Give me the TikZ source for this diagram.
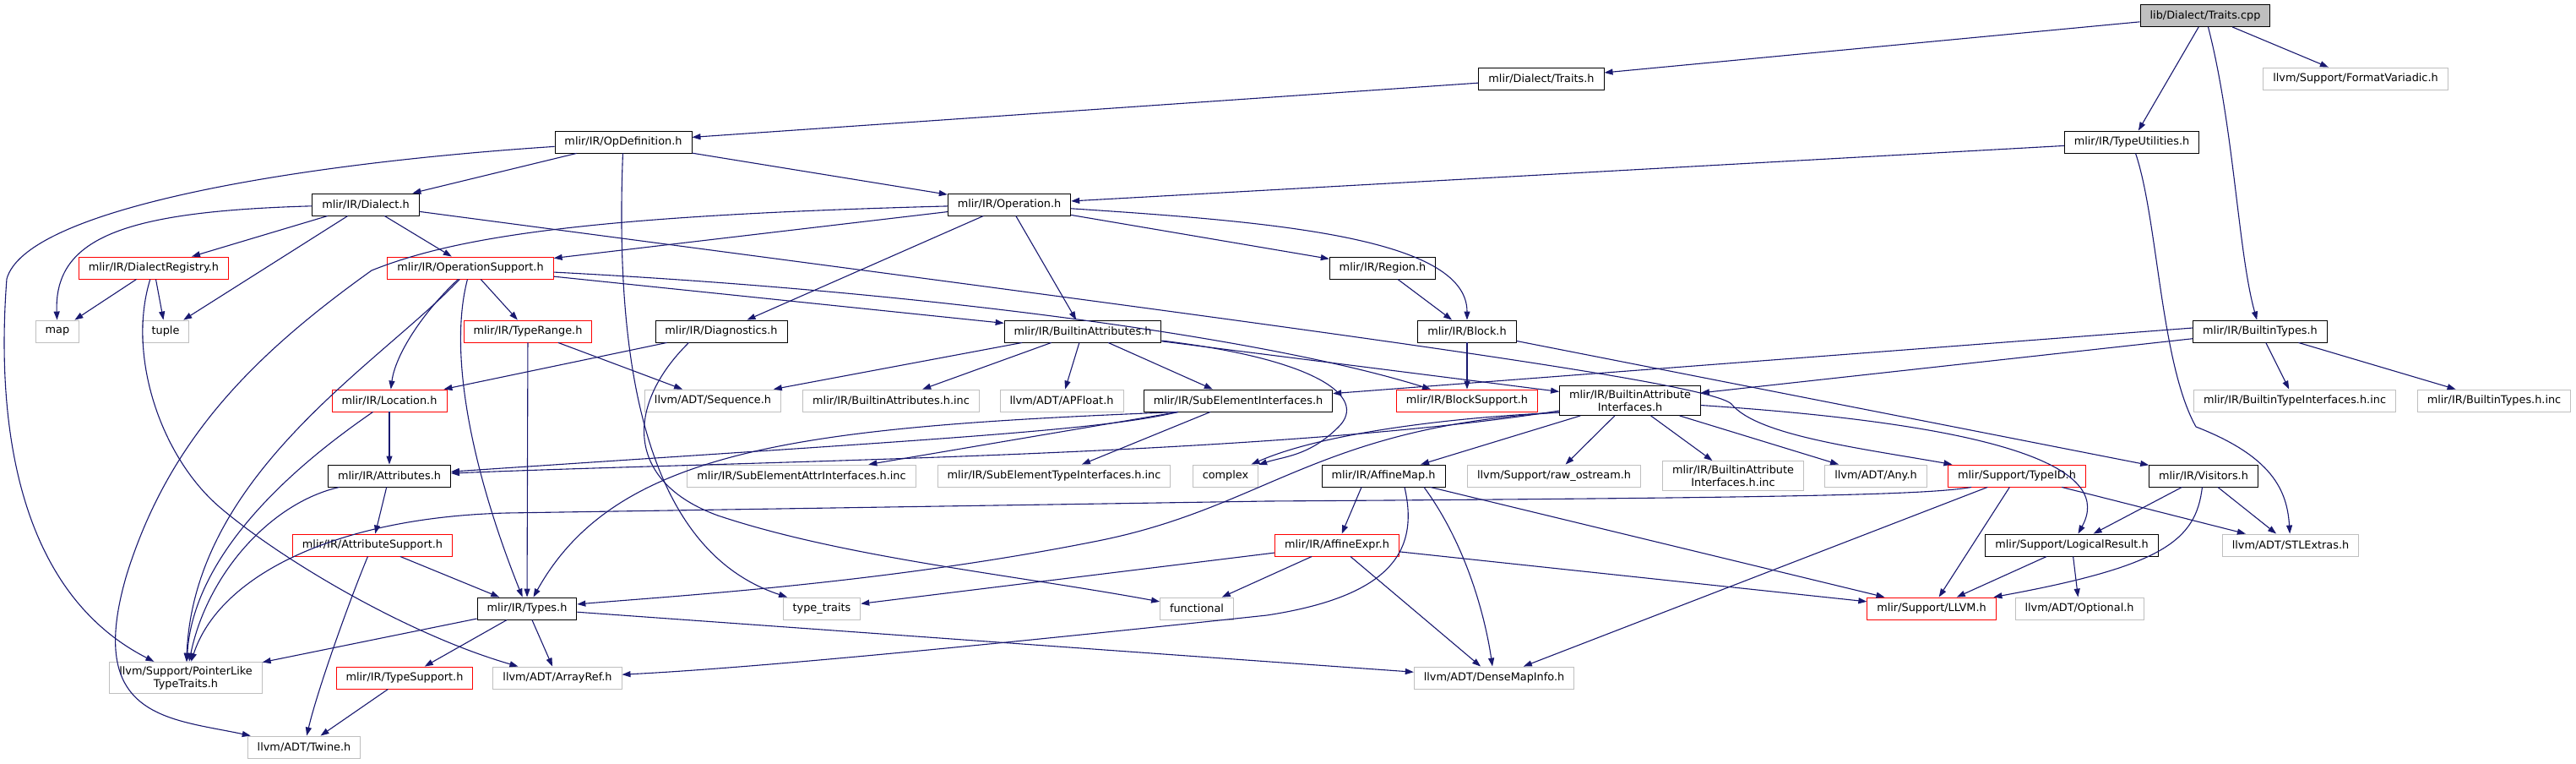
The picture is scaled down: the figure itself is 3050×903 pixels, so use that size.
\documentclass[tikz,border=0pt]{standalone}
\usepackage{fontspec}
\setmainfont{DejaVu Sans}
\usetikzlibrary{arrows.meta}
\definecolor{depblue}{HTML}{191970}
\definecolor{boxgrey}{HTML}{BFBFBF}
\definecolor{boxred}{HTML}{FF0000}
\begin{document}
\begin{tikzpicture}[x=1pt,y=-1pt,
  font=\fontsize{12.85}{15}\selectfont,
  file/.style={draw=black,fill=white,line width=0.9pt,inner xsep=11.5pt,inner ysep=5pt,minimum height=26pt,align=center},
  ext/.style={file,draw=boxgrey},
  trunc/.style={file,draw=boxred},
  root/.style={file,fill=boxgrey},
  dep/.style={draw=depblue,line width=1.1pt,-{Triangle[length=10pt,width=7pt]}}]
  \useasboundingbox (0,0) rectangle (3050,903);
  \node[root] (traitscpp) at (2611,18.5) {lib/Dialect/Traits.cpp};
  \node[ext] (fmtvar) at (2789,93) {llvm/Support/FormatVariadic.h};
  \node[file] (traitsh) at (1825,93) {mlir/Dialect/Traits.h};
  \node[file] (typeutil) at (2524,168) {mlir/IR/TypeUtilities.h};
  \node[file] (opdef) at (738,168) {mlir/IR/OpDefinition.h};
  \node[file] (dialect) at (433,242) {mlir/IR/Dialect.h};
  \node[file] (operation) at (1195,242) {mlir/IR/Operation.h};
  \node[trunc] (dialreg) at (182,317) {mlir/IR/DialectRegistry.h};
  \node[trunc] (opsupport) at (557,317) {mlir/IR/OperationSupport.h};
  \node[file] (region) at (1637,317) {mlir/IR/Region.h};
  \node[ext] (map) at (68,392) {map};
  \node[ext] (tuple) at (196,392) {tuple};
  \node[trunc] (typerange) at (625,392) {mlir/IR/TypeRange.h};
  \node[file] (diag) at (854,392) {mlir/IR/Diagnostics.h};
  \node[file] (battr) at (1282,392) {mlir/IR/BuiltinAttributes.h};
  \node[file] (block) at (1737,392) {mlir/IR/Block.h};
  \node[file] (btypes) at (2676,392) {mlir/IR/BuiltinTypes.h};
  \node[trunc] (location) at (461,474) {mlir/IR/Location.h};
  \node[ext] (sequence) at (844,474) {llvm/ADT/Sequence.h};
  \node[ext] (battrinc) at (1055,474) {mlir/IR/BuiltinAttributes.h.inc};
  \node[ext] (apfloat) at (1257,474) {llvm/ADT/APFloat.h};
  \node[file] (subelem) at (1466,474) {mlir/IR/SubElementInterfaces.h};
  \node[trunc] (blocksup) at (1737,474) {mlir/IR/BlockSupport.h};
  \node[file] (battrif) at (1930,474) {mlir/IR/BuiltinAttribute\\Interfaces.h};
  \node[ext] (btifinc) at (2717,474) {mlir/IR/BuiltinTypeInterfaces.h.inc};
  \node[ext] (btypesinc) at (2953,474) {mlir/IR/BuiltinTypes.h.inc};
  \node[file] (attrs) at (461,563) {mlir/IR/Attributes.h};
  \node[ext] (seattrinc) at (949,563) {mlir/IR/SubElementAttrInterfaces.h.inc};
  \node[ext] (setypeinc) at (1248,563) {mlir/IR/SubElementTypeInterfaces.h.inc};
  \node[ext] (complex) at (1451,563) {complex};
  \node[file] (affmap) at (1638,563) {mlir/IR/AffineMap.h};
  \node[ext] (rawos) at (1840,563) {llvm/Support/raw\_ostream.h};
  \node[ext] (battrifinc) at (2052,563) {mlir/IR/BuiltinAttribute\\Interfaces.h.inc};
  \node[ext] (any) at (2221,563) {llvm/ADT/Any.h};
  \node[trunc] (typeid) at (2388,563) {mlir/Support/TypeID.h};
  \node[file] (visitors) at (2609,563) {mlir/IR/Visitors.h};
  \node[trunc] (attrsup) at (441,645) {mlir/IR/AttributeSupport.h};
  \node[trunc] (affexpr) at (1583,645) {mlir/IR/AffineExpr.h};
  \node[file] (logres) at (2453,645) {mlir/Support/LogicalResult.h};
  \node[ext] (stlextras) at (2712,645) {llvm/ADT/STLExtras.h};
  \node[file] (types) at (624,720) {mlir/IR/Types.h};
  \node[ext] (typetraits) at (973,720) {type\_traits};
  \node[ext] (functional) at (1417,720) {functional};
  \node[trunc] (llvmh) at (2287,720) {mlir/Support/LLVM.h};
  \node[ext] (optional) at (2462,720) {llvm/ADT/Optional.h};
  \node[ext] (ptrlike) at (220,802) {llvm/Support/PointerLike\\TypeTraits.h};
  \node[trunc] (typesup) at (479,802) {mlir/IR/TypeSupport.h};
  \node[ext] (arrayref) at (660,802) {llvm/ADT/ArrayRef.h};
  \node[ext] (densemap) at (1769,802) {llvm/ADT/DenseMapInfo.h};
  \node[ext] (twine) at (360,884) {llvm/ADT/Twine.h};

  \draw[dep] (traitscpp) -- (traitsh);
  \draw[dep] (traitscpp) -- (typeutil);
  \draw[dep] (traitscpp) -- (fmtvar);
  \draw[dep] (traitscpp) .. controls (2645,150) and (2650,300) .. (btypes);
  \draw[dep] (traitsh) -- (opdef);
  \draw[dep] (typeutil) -- (operation);
  \draw[dep] (typeutil) .. controls (2555,260) and (2558,430) .. (2600,505) .. controls (2690,540) and (2708,580) .. (stlextras);
  \draw[dep] (opdef) -- (dialect);
  \draw[dep] (opdef) -- (operation);
  \draw[dep] (opdef) .. controls (728,420) and (760,650) .. (typetraits);
  \draw[dep] (opdef) .. controls (330,195) and (30,250) .. (8,330) .. controls (-5,500) and (20,700) .. (ptrlike);
  \draw[dep] (dialect) .. controls (150,250) and (64,280) .. (map);
  \draw[dep] (dialect) -- (dialreg);
  \draw[dep] (dialect) -- (tuple);
  \draw[dep] (dialect) -- (opsupport);
  \draw[dep] (dialect) .. controls (1500,383) and (2020,450) .. (2050,478) .. controls (2080,515) and (2200,530) .. (typeid);
  \draw[dep] (dialreg) -- (map);
  \draw[dep] (dialreg) -- (tuple);
  \draw[dep] (dialreg) .. controls (150,420) and (190,540) .. (260,600) .. controls (330,660) and (480,750) .. (arrayref);
  \draw[dep] (operation) -- (opsupport);
  \draw[dep] (operation) .. controls (700,255) and (540,280) .. (440,320) .. controls (300,420) and (200,520) .. (150,680) .. controls (100,850) and (200,850) .. (twine);
  \draw[dep] (operation) -- (diag);
  \draw[dep] (operation) -- (battr);
  \draw[dep] (operation) -- (region);
  \draw[dep] (operation) .. controls (1500,262) and (1737,280) .. (block);
  \draw[dep] (region) -- (block);
  \draw[dep] (opsupport) .. controls (500,370) and (468,420) .. (location);
  \draw[dep] (opsupport) -- (typerange);
  \draw[dep] (opsupport) .. controls (530,420) and (560,560) .. (types);
  \draw[dep] (opsupport) .. controls (450,430) and (230,560) .. (ptrlike);
  \draw[dep] (opsupport) -- (battr);
  \draw[dep] (opsupport) .. controls (1100,345) and (1500,400) .. (blocksup);
  \draw[dep] (typerange) -- (types);
  \draw[dep] (typerange) -- (sequence);
  \draw[dep] (diag) -- (location);
  \draw[dep] ([xshift=40pt]diag.south west) .. controls (740,480) and (740,570) .. (850,610) .. controls (1000,660) and (1200,680) .. (functional);
  \draw[dep] (location) -- (attrs);
  \draw[dep] (location) .. controls (380,530) and (230,640) .. (ptrlike);
  \draw[dep] (attrs) -- (attrsup);
  \draw[dep] (attrs) .. controls (320,595) and (245,680) .. (ptrlike);
  \draw[dep] (attrsup) -- (types);
  \draw[dep] (attrsup) .. controls (410,720) and (375,820) .. (twine);
  \draw[dep] (types) -- (ptrlike);
  \draw[dep] (types) -- (typesup);
  \draw[dep] (types) -- (arrayref);
  \draw[dep] (types) -- (densemap);
  \draw[dep] (typesup) -- (twine);
  \draw[dep] (battr) -- (sequence);
  \draw[dep] (battr) -- (battrinc);
  \draw[dep] (battr) -- (apfloat);
  \draw[dep] (battr) -- (subelem);
  \draw[dep] (battr) .. controls (1560,425) and (1620,470) .. (1585,505) .. controls (1550,540) and (1520,540) .. (complex);
  \draw[dep] (battr) -- (battrif);
  \draw[dep] (block) -- (blocksup);
  \draw[dep] (block) -- (visitors);
  \draw[dep] ([yshift=4pt]btypes.west) -- (subelem);
  \draw[dep] (btypes) -- (battrif);
  \draw[dep] (btypes) -- (btifinc);
  \draw[dep] (btypes) -- (btypesinc);
  \draw[dep] ([xshift=41pt]subelem.south west) .. controls (1300,510) and (1100,520) .. (attrs);
  \draw[dep] ([xshift=41pt]subelem.south west) .. controls (950,505) and (730,530) .. (types);
  \draw[dep] ([xshift=41pt]subelem.south west) -- (seattrinc);
  \draw[dep] (subelem) -- (setypeinc);
  \draw[dep] ([yshift=-12pt]battrif.west) .. controls (1500,540) and (900,545) .. (attrs);
  \draw[dep] ([yshift=-14pt]battrif.west) .. controls (1560,505) and (1500,600) .. (1300,640) .. controls (1050,690) and (800,705) .. (types);
  \draw[dep] ([yshift=-14pt]battrif.west) .. controls (1700,495) and (1560,515) .. (complex);
  \draw[dep] (battrif) -- (affmap);
  \draw[dep] (battrif) -- (rawos);
  \draw[dep] (battrif) -- (battrifinc);
  \draw[dep] (battrif) -- (any);
  \draw[dep] (battrif) .. controls (2400,505) and (2500,560) .. (logres);
  \draw[dep] ([xshift=28pt]typeid.south west) .. controls (2280,586) and (2100,589) .. (1500,593) -- (600,607) .. controls (400,612) and (260,680) .. (ptrlike);
  \draw[dep] (typeid) -- (densemap);
  \draw[dep] (typeid) -- (llvmh);
  \draw[dep] (typeid) -- (stlextras);
  \draw[dep] (visitors) -- (logres);
  \draw[dep] (visitors) -- (stlextras);
  \draw[dep] (visitors) .. controls (2600,640) and (2560,670) .. (llvmh);
  \draw[dep] (logres) -- (llvmh);
  \draw[dep] (logres) -- (optional);
  \draw[dep] ([xshift=-26pt]affmap.south) -- (affexpr);
  \draw[dep] ([xshift=25pt]affmap.south) .. controls (1680,650) and (1650,705) .. (1500,728) .. controls (1200,760) and (900,790) .. (arrayref);
  \draw[dep] ([xshift=48pt]affmap.south) .. controls (1740,650) and (1760,740) .. (densemap);
  \draw[dep] (affmap) -- (llvmh);
  \draw[dep] (affexpr) -- (typetraits);
  \draw[dep] (affexpr) -- (functional);
  \draw[dep] (affexpr) -- (densemap);
  \draw[dep] (affexpr) -- (llvmh);
\end{tikzpicture}
\end{document}
